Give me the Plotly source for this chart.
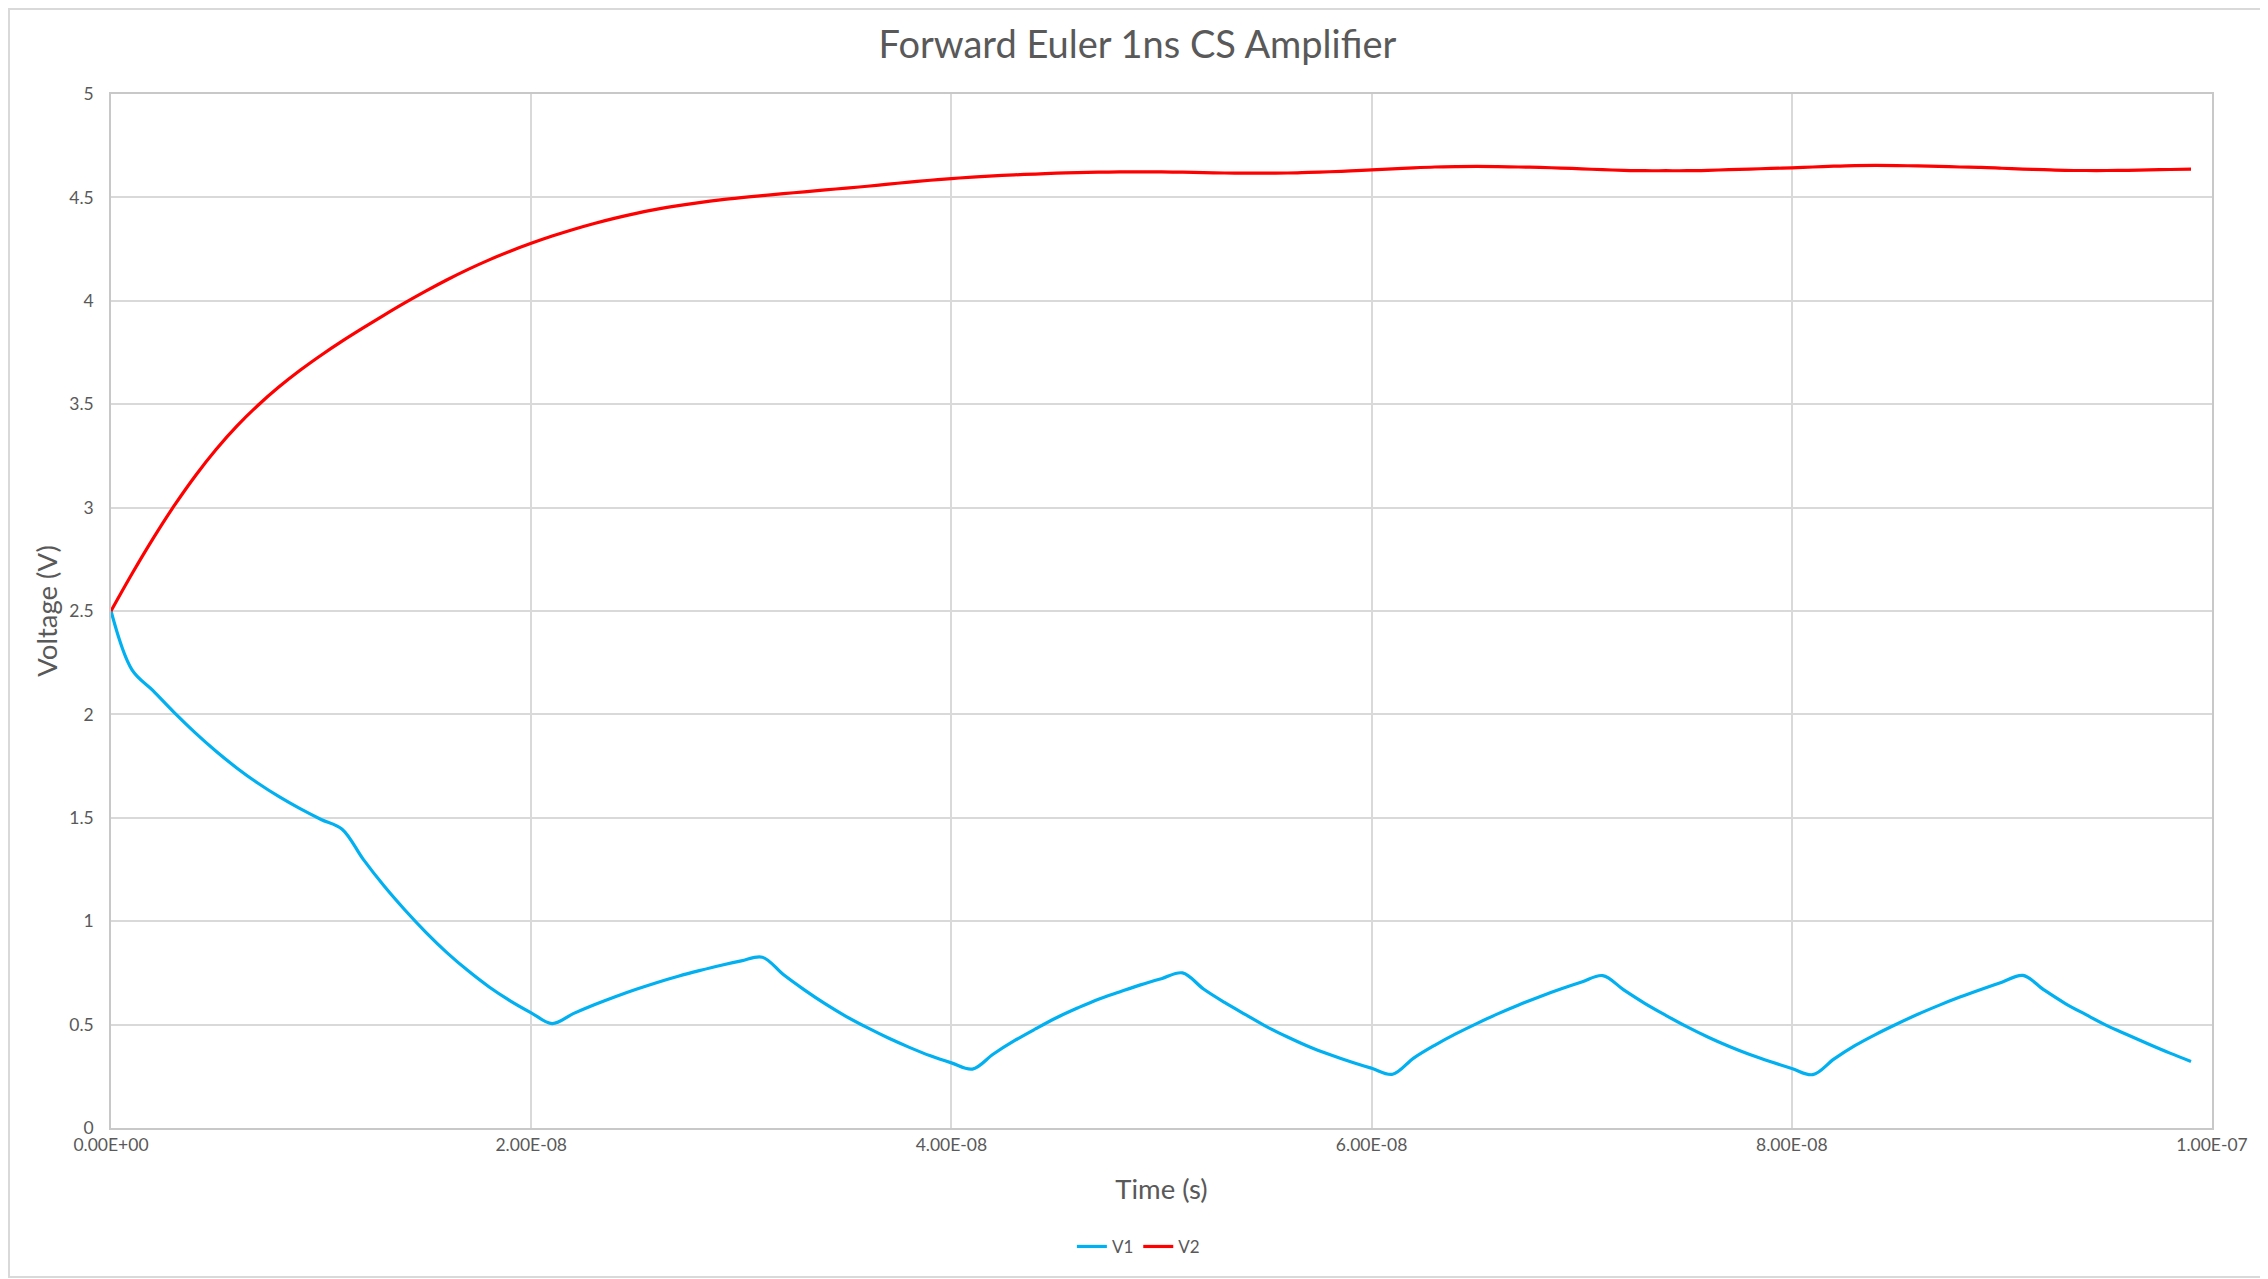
import plotly.graph_objects as go

### Data (1 ns Forward Euler steps) ###
time_ns = list(range(0, 100))

v1 = [2.50, 2.215, 2.115, 2.01, 1.912, 1.822, 1.74, 1.667, 1.602, 1.544,
      1.492, 1.445, 1.30, 1.17, 1.053, 0.945, 0.847, 0.76, 0.682, 0.615,
      0.557, 0.505, 0.553, 0.596, 0.635, 0.671, 0.704, 0.734, 0.761, 0.786,
      0.808, 0.826, 0.742, 0.668, 0.60, 0.539, 0.485, 0.435, 0.39, 0.349,
      0.315, 0.285, 0.358, 0.422, 0.479, 0.533, 0.58, 0.623, 0.658, 0.692,
      0.722, 0.75, 0.672, 0.607, 0.548, 0.49, 0.44, 0.394, 0.355, 0.32,
      0.289, 0.26, 0.338, 0.40, 0.455, 0.505, 0.552, 0.595, 0.635, 0.672,
      0.706, 0.737, 0.668, 0.603, 0.545, 0.49, 0.44, 0.395, 0.355, 0.32,
      0.288, 0.258, 0.333, 0.398, 0.453, 0.503, 0.55, 0.593, 0.633, 0.67,
      0.705, 0.738, 0.668, 0.603, 0.548, 0.495, 0.45, 0.405, 0.362, 0.322]

v2 = [2.50, 2.68, 2.85, 3.008, 3.152, 3.281, 3.395, 3.495, 3.584, 3.664,
      3.737, 3.805, 3.869, 3.931, 3.991, 4.048, 4.102, 4.152, 4.198, 4.24,
      4.278, 4.313, 4.345, 4.374, 4.40, 4.423, 4.443, 4.46, 4.475, 4.488,
      4.499, 4.509, 4.518, 4.527, 4.536, 4.545, 4.554, 4.564, 4.574, 4.583,
      4.591, 4.598, 4.604, 4.609, 4.613, 4.617, 4.62, 4.622, 4.623, 4.623,
      4.623, 4.622, 4.62, 4.618, 4.617, 4.617, 4.618, 4.621, 4.624, 4.628,
      4.633, 4.638, 4.643, 4.647, 4.649, 4.650, 4.649, 4.647, 4.645, 4.642,
      4.638, 4.634, 4.631, 4.629, 4.629, 4.629, 4.631, 4.634, 4.637, 4.640,
      4.643, 4.647, 4.651, 4.654, 4.655, 4.654, 4.652, 4.650, 4.647, 4.645,
      4.641, 4.637, 4.634, 4.631, 4.630, 4.630, 4.631, 4.633, 4.635, 4.637]

x_tick_vals = [0, 2e-8, 4e-8, 6e-8, 8e-8, 1e-7]
x_tick_text = ['0.00E+00', '2.00E-08', '4.00E-08', '6.00E-08', '8.00E-08', '1.00E-07']

time_s = [t * 1e-9 for t in time_ns]

### Plot ###
font_name = 'Lato, Open Sans, sans-serif'
text_grey = '#595959'
grid_grey = '#d9d9d9'

# page body adds an 8px offset, so the figure is sized to end at the frame
fig_w, fig_h = 2259, 1270

fig = go.Figure()
fig.add_trace(go.Scatter(x=time_s, y=v1, name='V1', mode='lines',
                         line=dict(color='#00B0F0', width=3.2,
                                   shape='spline', smoothing=1)))
fig.add_trace(go.Scatter(x=time_s, y=v2, name='V2', mode='lines',
                         line=dict(color='#FF0000', width=3.2,
                                   shape='spline', smoothing=1)))

fig.update_layout(
    width=fig_w, height=fig_h,
    margin=dict(l=103, r=55, t=86, b=150),
    paper_bgcolor='white', plot_bgcolor='white',
    font=dict(family=font_name, color=text_grey, size=17),
    title=dict(text='Forward Euler 1ns CS Amplifier', x=0.5, xanchor='center',
               y=1 - 37 / fig_h, yanchor='middle',
               font=dict(size=38, color=text_grey)),
    showlegend=True,
    legend=dict(orientation='h', x=0.489, xanchor='center', y=-0.115,
                yanchor='middle', font=dict(size=17, color=text_grey)),
)

fig.update_xaxes(range=[0, 1e-7], tickvals=x_tick_vals, ticktext=x_tick_text,
                 showgrid=True, gridcolor=grid_grey, gridwidth=1.5,
                 showline=True, linecolor='#c8c8c8', linewidth=1.5, mirror=True,
                 zeroline=False, ticks='', tickfont=dict(size=17.5),
                 title=dict(text='Time (s)', font=dict(size=27.5), standoff=26))
fig.update_yaxes(range=[0, 5], dtick=0.5, tick0=0,
                 showgrid=True, gridcolor=grid_grey, gridwidth=1.5,
                 showline=True, linecolor='#c8c8c8', linewidth=1.5, mirror=True,
                 zeroline=False, ticks='', tickfont=dict(size=17.5),
                 ticklabelstandoff=12,
                 title=dict(text='Voltage (V)', font=dict(size=27.5), standoff=4))

# light outer frame like the spreadsheet chart border
fig.add_shape(type='rect', xref='paper', yref='paper',
              x0=-102 / 2101, x1=(fig_w - 104) / 2101,
              y0=-149 / 1034, y1=(1034 + 85) / 1034,
              line=dict(color=grid_grey, width=2), layer='below')

fig.write_html('out.html')
